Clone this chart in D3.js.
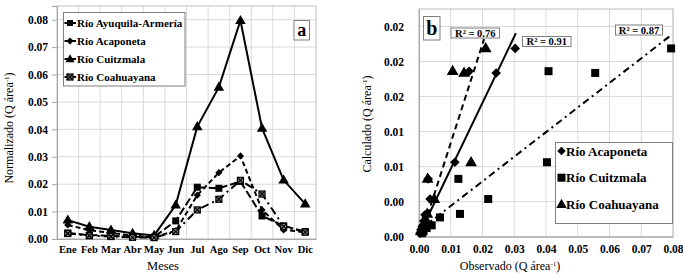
<!DOCTYPE html>
<html lang="es">
<head>
  <meta charset="utf-8">
  <title>Caudal normalizado</title>
  <script src="https://d3js.org/d3.v7.min.js"></script>
  <style>
    body { margin: 0; background: #fff; }
    text { font-family: "Liberation Serif", "DejaVu Serif", serif; }
  </style>
</head>
<body>
<script>
  // ---- datos panel a ----
  var meses = ['Ene','Feb','Mar','Abr','May','Jun','Jul','Ago','Sep','Oct','Nov','Dic'];
  var ayuquila   = [0.0022,0.0014,0.0012,0.0008,0.0007,0.0066,0.0189,0.0185,0.0210,0.0084,0.0048,0.0027];
  var acaponeta  = [0.0051,0.0032,0.0022,0.0012,0.0007,0.0030,0.0160,0.0242,0.0303,0.0106,0.0033,0.0025];
  var cuitzmala  = [0.0069,0.0045,0.0033,0.0021,0.0013,0.0124,0.0410,0.0554,0.0797,0.0404,0.0215,0.0128];
  var coahuayana = [0.0020,0.0012,0.0009,0.0006,0.0005,0.0027,0.0106,0.0145,0.0214,0.0164,0.0046,0.0025];
  var ticksA = [0,0.01,0.02,0.03,0.04,0.05,0.06,0.07,0.08];

  // ---- datos panel b: [observado, calculado] ----
  var scAcaponeta = [[0.0303,0.0215],[0.0243,0.0187],[0.0158,0.0189],[0.0113,0.0085],[0.0029,0.0066],
    [0.0035,0.0043],[0.0019,0.0025],[0.0015,0.0018],[0.0010,0.0012],[0.0006,0.0008],[0.0003,0.0004]];
  var scCuitzmala = [[0.0794,0.0215],[0.0555,0.0187],[0.0408,0.0189],[0.0403,0.0085],[0.0218,0.0043],
    [0.0124,0.0066],[0.0129,0.0026],[0.0066,0.0022],[0.0040,0.0013],[0.0024,0.0010],[0.0014,0.0006],[0.0009,0.0004]];
  var scCoahuayana = [[0.0210,0.0215],[0.0142,0.0187],[0.0106,0.0189],[0.0164,0.0085],[0.0027,0.0066],
    [0.0048,0.0043],[0.0026,0.0026],[0.0022,0.0019],[0.0012,0.0012],[0.0009,0.0009],[0.0006,0.0006]];
  // tendencias: pendiente, intercepto, x min, x max, R2
  var tendencias = [
    {rio:'Acaponeta', m:0.755, b:0.0002, x0:0.0003, x1:0.0305, r2:'0.91'},
    {rio:'Coahuayana', m:1.13, b:-0.0006, x0:0.0008, x1:0.0205, r2:'0.76'},
    {rio:'Cuitzmala', m:0.281, b:0.0007, x0:0.0009, x1:0.0797, r2:'0.87'}
  ];
  var ticksBx = [0,0.01,0.02,0.03,0.04,0.05,0.06,0.07,0.08];
  var ticksBy = [0,0.004,0.008,0.012,0.016,0.020,0.024];

  var W = 683, H = 277;
  var svg = d3.select('body').append('svg').attr('width', W).attr('height', H);
  var grid = '#d9d9d9', axisCol = '#a6a6a6';

  function marker(g, tipo, x, y, s) {
    if (tipo == 'sq') {
      g.append('rect').attr('x', x - s/2).attr('y', y - s/2).attr('width', s).attr('height', s).attr('fill', '#000');
    } else if (tipo == 'di') {
      var r = s * 0.6;
      g.append('path').attr('d', 'M'+x+','+(y-r)+'L'+(x+r)+','+y+'L'+x+','+(y+r)+'L'+(x-r)+','+y+'Z').attr('fill', '#000');
    } else if (tipo == 'tr') {
      g.append('path').attr('d', d3.symbol().type(d3.symbolTriangle).size(s*s*0.75)())
        .attr('transform', 'translate(' + x + ',' + (y+0.5) + ')').attr('fill', '#000');
    } else if (tipo == 'cx') {
      var h = s/2;
      g.append('rect').attr('x', x-h).attr('y', y-h).attr('width', s).attr('height', s)
        .attr('fill', '#8c8c8c').attr('stroke', '#000').attr('stroke-width', 1.2);
      g.append('path').attr('d', 'M'+(x-h)+','+(y-h)+'L'+(x+h)+','+(y+h)+'M'+(x+h)+','+(y-h)+'L'+(x-h)+','+(y+h))
        .attr('stroke', '#000').attr('stroke-width', 1.2);
    }
  }

  // ================= panel a =================
  var xa = d3.scaleBand().domain(meses).range([57, 316]).padding(0);
  var ya = d3.scaleLinear().domain([0, 0.085]).range([239, 6]);
  var ga = svg.append('g');

  ga.selectAll('.gh').data(ticksA).enter().append('line')
    .attr('x1', 57).attr('x2', 316).attr('y1', d => ya(d)).attr('y2', d => ya(d))
    .attr('stroke', grid);
  ga.selectAll('.gv').data(meses.slice(1)).enter().append('line')
    .attr('x1', d => xa(d)).attr('x2', d => xa(d)).attr('y1', 6).attr('y2', 239)
    .attr('stroke', grid);
  ga.append('rect').attr('x', 57).attr('y', 6).attr('width', 259).attr('height', 233)
    .attr('fill', 'none').attr('stroke', '#bfbfbf');

  var axA = ga.append('g').attr('transform', 'translate(57,0)')
    .call(d3.axisLeft(ya).tickValues(ticksA).tickFormat(d3.format('.2f')).tickSize(5).tickPadding(4));
  var axAx = ga.append('g').attr('transform', 'translate(0,239)')
    .call(d3.axisBottom(xa).tickSize(0).tickPadding(7));
  [axA, axAx].forEach(function(a) {
    a.selectAll('path, line').attr('stroke', axisCol);
    a.selectAll('text').attr('fill', '#000').style('font-weight', 'bold')
      .style('font-family', '"Liberation Serif", serif');
  });
  axA.selectAll('text').style('font-size', '11.5px');
  axAx.selectAll('text').style('font-size', '10.5px');

  var seriesA = [
    {nombre:'Río Ayuquila-Armería', v:ayuquila, m:'sq', dash:'8,3', s:7},
    {nombre:'Río Acaponeta', v:acaponeta, m:'di', dash:'5,3', s:6},
    {nombre:'Río Cuitzmala', v:cuitzmala, m:'tr', dash:null, s:8},
    {nombre:'Río Coahuayana', v:coahuayana, m:'cx', dash:'8,4,2,4', s:6}
  ];
  var lineA = d3.line().x((d, i) => xa(meses[i]) + xa.bandwidth()/2).y(d => ya(d));
  seriesA.forEach(function(s) {
    ga.append('path').datum(s.v).attr('d', lineA).attr('fill', 'none')
      .attr('stroke', '#000').attr('stroke-width', 2)
      .attr('stroke-dasharray', s.dash);
  });
  seriesA.forEach(function(s) {
    s.v.forEach(function(d, i) { marker(ga, s.m, xa(meses[i]) + xa.bandwidth()/2, ya(d), s.s); });
  });

  // leyenda a
  var la = ga.append('g');
  la.append('rect').attr('x', 63.5).attr('y', 12.5).attr('width', 121.5).attr('height', 73.5)
    .attr('fill', '#fff').attr('stroke', '#7f7f7f');
  seriesA.forEach(function(s, i) {
    var y = 23 + i * 18;
    la.append('line').attr('x1', 64.5).attr('x2', 76).attr('y1', y).attr('y2', y)
      .attr('stroke', '#000').attr('stroke-width', 2);
    marker(la, s.m, 70, y, s.m == 'tr' ? 7 : 6);
    la.append('text').attr('x', 77).attr('y', y + 4).text(s.nombre)
      .style('font-size', '11px').style('font-weight', 'bold');
  });
  ga.append('rect').attr('x', 294).attr('y', 20.5).attr('width', 15.5).attr('height', 19.5)
    .attr('fill', '#fff').attr('stroke', '#7f7f7f');
  ga.append('text').attr('x', 301.8).attr('y', 35.5).attr('text-anchor', 'middle').text('a')
    .style('font-size', '18px').style('font-weight', 'bold');

  var tA = ga.append('text').attr('transform', 'translate(13,128) rotate(-90)').attr('text-anchor', 'middle')
    .style('font-size', '12px');
  tA.append('tspan').text('Normalizado (Q área');
  tA.append('tspan').attr('dy', -4).style('font-size', '7px').text('-1');
  tA.append('tspan').attr('dy', 4).text(')');
  ga.append('text').attr('x', 163).attr('y', 270).attr('text-anchor', 'middle').text('Meses')
    .style('font-size', '12.5px');

  // ================= panel b =================
  var xb = d3.scaleLinear().domain([0, 0.08]).range([419, 673]);
  var yb = d3.scaleLinear().domain([0, 0.026]).range([236.7, 9]);
  var gb = svg.append('g');

  gb.selectAll('.gh').data(ticksBy).enter().append('line')
    .attr('x1', 419).attr('x2', 673).attr('y1', d => yb(d)).attr('y2', d => yb(d)).attr('stroke', grid);
  gb.selectAll('.gv').data(ticksBx).enter().append('line')
    .attr('x1', d => xb(d)).attr('x2', d => xb(d)).attr('y1', 9).attr('y2', 236.7).attr('stroke', grid);
  gb.append('rect').attr('x', 419).attr('y', 9).attr('width', 254).attr('height', 227.7)
    .attr('fill', 'none').attr('stroke', '#bfbfbf');

  var axB = gb.append('g').attr('transform', 'translate(419,0)')
    .call(d3.axisLeft(yb).tickValues(ticksBy).tickFormat(d3.format('.2f')).tickSize(0).tickPadding(15));
  var axBx = gb.append('g').attr('transform', 'translate(0,236.7)')
    .call(d3.axisBottom(xb).tickValues(ticksBx).tickFormat(d3.format('.2f')).tickSize(0).tickPadding(8));
  [axB, axBx].forEach(function(a) {
    a.selectAll('path, line').attr('stroke', axisCol);
    a.selectAll('text').attr('fill', '#000').style('font-weight', 'bold').style('font-size', '11.5px')
      .style('font-family', '"Liberation Serif", serif');
  });

  var estilos = {Acaponeta:null, Coahuayana:'6,4', Cuitzmala:'7,4,2,4'};
  tendencias.forEach(function(t) {
    gb.append('path').datum([t.x0, t.x1])
      .attr('d', d3.line().x(d => xb(d)).y(d => yb(t.m * d + t.b)))
      .attr('fill', 'none').attr('stroke', '#000').attr('stroke-width', 2)
      .attr('stroke-dasharray', estilos[t.rio]);
  });
  scCuitzmala.forEach(d => marker(gb, 'sq', xb(d[0]), yb(d[1]), 8));
  scCoahuayana.forEach(d => marker(gb, 'tr', xb(d[0]), yb(d[1]), 9));
  scAcaponeta.forEach(d => marker(gb, 'di', xb(d[0]), yb(d[1]), 8));

  // etiquetas R2
  var cajas = {Acaponeta:[522.5, 36.5, 48.5], Coahuayana:[451, 28, 48.5], Cuitzmala:[615.5, 25, 47]};
  tendencias.forEach(function(t) {
    var c = cajas[t.rio];
    gb.append('rect').attr('x', c[0]).attr('y', c[1]).attr('width', c[2]).attr('height', 10)
      .attr('fill', '#fff').attr('stroke', '#7f7f7f');
    gb.append('text').attr('x', c[0] + c[2]/2).attr('y', c[1] + 8.5).attr('text-anchor', 'middle')
      .text('R² = ' + t.r2).style('font-size', '10.5px').style('font-weight', 'bold');
  });
  gb.append('rect').attr('x', 423.5).attr('y', 16.5).attr('width', 16.5).attr('height', 23.5)
    .attr('fill', '#fff').attr('stroke', '#7f7f7f');
  gb.append('text').attr('x', 431.8).attr('y', 34.5).attr('text-anchor', 'middle').text('b')
    .style('font-size', '20px').style('font-weight', 'bold');

  // leyenda b
  var lb = gb.append('g');
  lb.append('rect').attr('x', 555.5).attr('y', 142.5).attr('width', 117).attr('height', 81)
    .attr('fill', '#fff').attr('stroke', '#7f7f7f');
  var legB = [['Río Acaponeta','di',7], ['Río Cuitzmala','sq',8], ['Río Coahuayana','tr',8]];
  legB.forEach(function(l, i) {
    var y = 151 + i * 26.7;
    marker(lb, l[1], 561.5, y, l[2]);
    lb.append('text').attr('x', 566).attr('y', y + 4.5).text(l[0])
      .style('font-size', '13px').style('font-weight', 'bold');
  });

  var tB = gb.append('text').attr('transform', 'translate(371,124) rotate(-90)').attr('text-anchor', 'middle')
    .style('font-size', '12px');
  tB.append('tspan').text('Calculado (Q área');
  tB.append('tspan').attr('dy', -4).style('font-size', '7px').text('-1');
  tB.append('tspan').attr('dy', 4).text(')');
  var tBx = gb.append('text').attr('x', 510).attr('y', 270).attr('text-anchor', 'middle')
    .style('font-size', '12px');
  tBx.append('tspan').text('Observado (Q área');
  tBx.append('tspan').attr('dy', -4).style('font-size', '7px').text('-1');
  tBx.append('tspan').attr('dy', 4).text(')');
</script>
</body>
</html>
